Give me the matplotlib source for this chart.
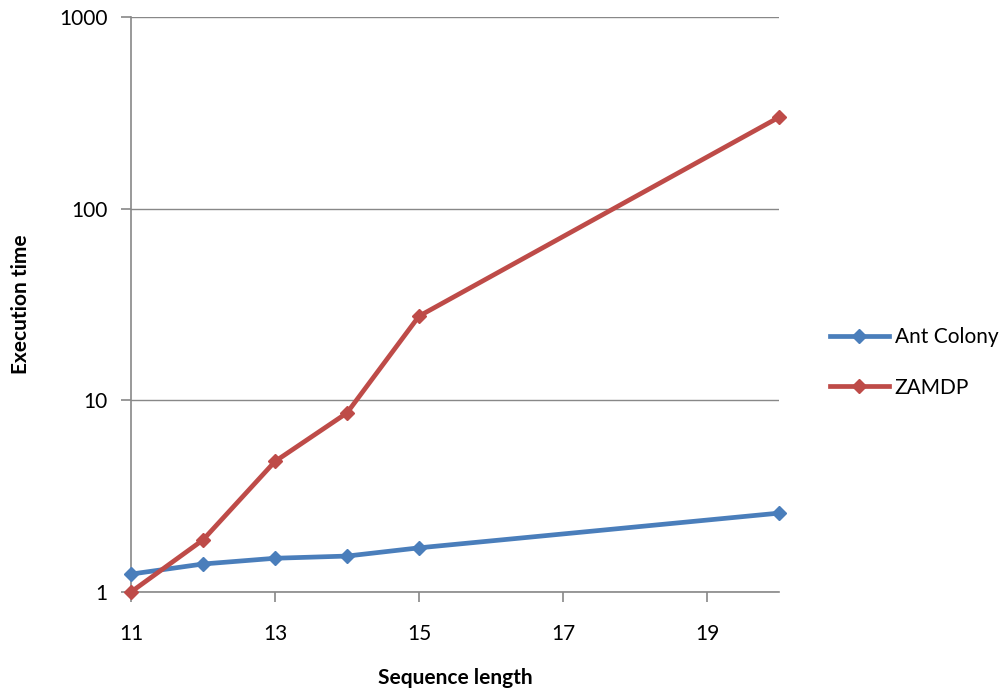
import matplotlib
matplotlib.use('Agg')
import matplotlib.pyplot as plt

seq_len = [11, 12, 13, 14, 15, 20]
ant_colony = [1.24, 1.40, 1.50, 1.54, 1.70, 2.58]
zamdp = [1.0, 1.87, 4.8, 8.6, 27.5, 300]

blue = '#4A7EBB'
red = '#BE4B48'
grey = '#888888'

plt.rcParams['font.family'] = ['Lato', 'DejaVu Sans']

fig = plt.figure(figsize=(10.06, 6.92), dpi=100)
ax = fig.add_axes([0.1302, 0.1445, 0.6442, 0.8309])

ax.plot(seq_len, ant_colony, color=blue, lw=3.4, marker='D', ms=7, label='Ant Colony', clip_on=False, zorder=3)
ax.plot(seq_len, zamdp, color=red, lw=3.4, marker='D', ms=7, label='ZAMDP', clip_on=False, zorder=3)

ax.set_yscale('log')
ax.set_ylim(1, 1000)
ax.set_xlim(11, 20)
ax.set_yticks([1, 10, 100, 1000])
ax.set_yticklabels(['1', '10', '100', '1000'])
ax.minorticks_off()
ax.set_xticks([11, 13, 15, 17, 19])

ax.grid(axis='y', color=grey, lw=1)
ax.set_axisbelow(True)
for s in ['top', 'right']:
    ax.spines[s].set_visible(False)
for s in ['left', 'bottom']:
    ax.spines[s].set_color(grey)
    ax.spines[s].set_linewidth(1.2)
ax.tick_params(axis='both', colors=grey, labelcolor='black', labelsize=15, length=7, width=1.2)
ax.tick_params(axis='x', pad=16)
ax.tick_params(axis='y', pad=10)

ax.set_xlabel('Sequence length', fontsize=15, fontweight='bold', labelpad=17)
ax.set_ylabel('Execution time', fontsize=15, fontweight='bold', labelpad=20)

ax.legend(loc='center left', bbox_to_anchor=(1.05, 0.399), frameon=False, fontsize=15,
          handlelength=2.8, labelspacing=1.45, handletextpad=0.3)

fig.savefig('out.png', dpi=100)
